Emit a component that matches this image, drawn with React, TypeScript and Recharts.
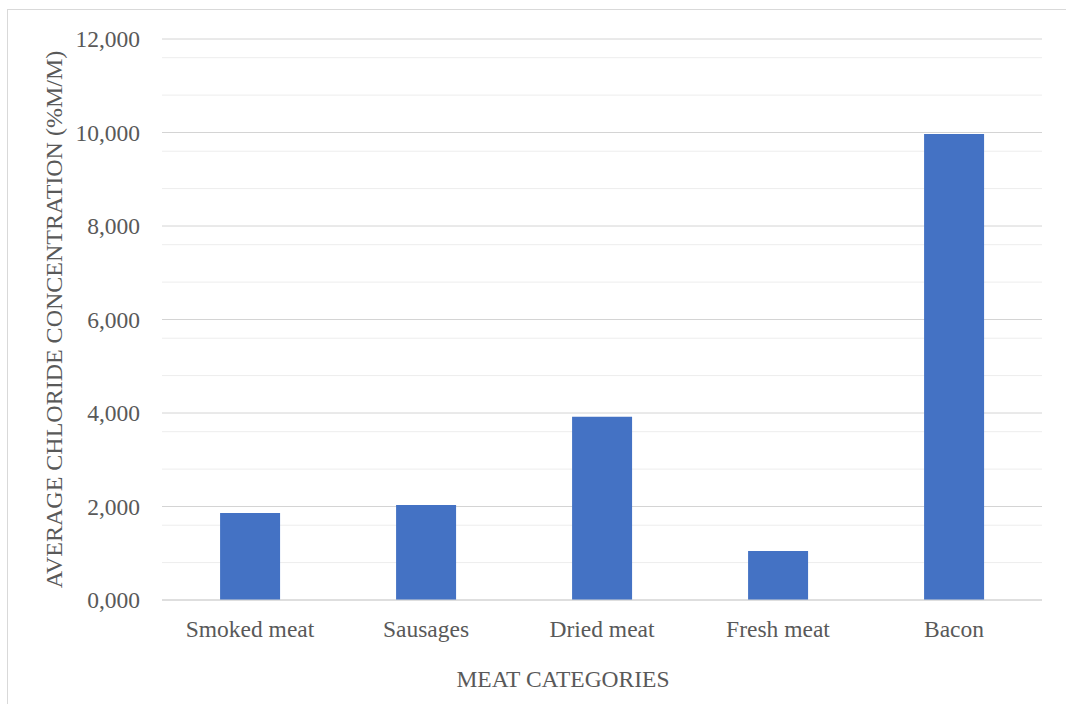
import React from 'react';
import { BarChart, Bar, XAxis, YAxis, CartesianGrid } from 'recharts';

const categories = ['Smoked meat', 'Sausages', 'Dried meat', 'Fresh meat', 'Bacon'];
const chlorideValues = [1.86, 2.03, 3.92, 1.05, 9.97];

const majorTicks = [0, 2, 4, 6, 8, 10, 12];
const minorTicks = [
  0.4, 0.8, 1.2, 1.6, 2.4, 2.8, 3.2, 3.6, 4.4, 4.8, 5.2, 5.6,
  6.4, 6.8, 7.2, 7.6, 8.4, 8.8, 9.2, 9.6, 10.4, 10.8, 11.2, 11.6,
];

const xTitle = 'MEAT CATEGORIES';
const yTitle = 'AVERAGE CHLORIDE CONCENTRATION (%M/M)';

const data = categories.map((name, i) => ({ name, value: chlorideValues[i] }));

const FONT = '"Liberation Serif", "Times New Roman", serif';
const TEXT = '#595959';

const formatTick = (v: number) => v.toFixed(3).replace('.', ',');

const App: React.FC = () => {
  return (
    <div style={{ position: 'absolute', left: 0, top: 0, width: 1066, height: 704, overflow: 'hidden', background: '#fff' }}>
      {/* chart area border (only left and top edges are visible) */}
      <div
        style={{
          position: 'absolute', left: 7, top: 9, width: 1100, height: 740,
          borderLeft: '1px solid #d9d9d9', borderTop: '1px solid #d9d9d9',
        }}
      />
      <div style={{ position: 'absolute', left: 0, top: 0 }}>
        <BarChart
          width={1066}
          height={704}
          data={data}
          margin={{ top: 39, right: 24, bottom: 0, left: 0 }}
          barCategoryGap="33%"
        >
          {/* minor gridlines */}
          <CartesianGrid vertical={false} stroke="#ededed" horizontalValues={minorTicks} />
          <CartesianGrid vertical={false} stroke="#d4d4d4" horizontalValues={majorTicks} />
          <XAxis
            dataKey="name"
            height={104}
            axisLine={{ stroke: '#d4d4d4' }}
            tickLine={false}
            tickMargin={14}
            tick={{ fill: TEXT, fontSize: 23.5, fontFamily: FONT }}
            label={{
              content: ({ viewBox }: any) => (
                <text
                  x={viewBox.x + viewBox.width / 2 - 39}
                  y={viewBox.y + viewBox.height - 17}
                  textAnchor="middle"
                  fill={TEXT}
                  fontSize={23.5}
                  fontFamily={FONT}
                >
                  {xTitle}
                </text>
              ),
            }}
          />
          <YAxis
            width={162}
            domain={[0, 12]}
            ticks={majorTicks}
            tickFormatter={formatTick}
            axisLine={false}
            tickLine={false}
            tickMargin={16}
            tick={{ fill: TEXT, fontSize: 23.5, fontFamily: FONT }}
            label={{
              content: ({ viewBox }: any) => {
                const x = viewBox.x + 62;
                const y = viewBox.y + viewBox.height / 2;
                return (
                  <text
                    x={x}
                    y={y}
                    transform={`rotate(-90, ${x}, ${y})`}
                    textAnchor="middle"
                    fill={TEXT}
                    fontSize={24}
                    fontFamily={FONT}
                  >
                    {yTitle}
                  </text>
                );
              },
            }}
          />
          <Bar dataKey="value" fill="#4472C4" isAnimationActive={false} />
        </BarChart>
      </div>
    </div>
  );
};

export default App;
